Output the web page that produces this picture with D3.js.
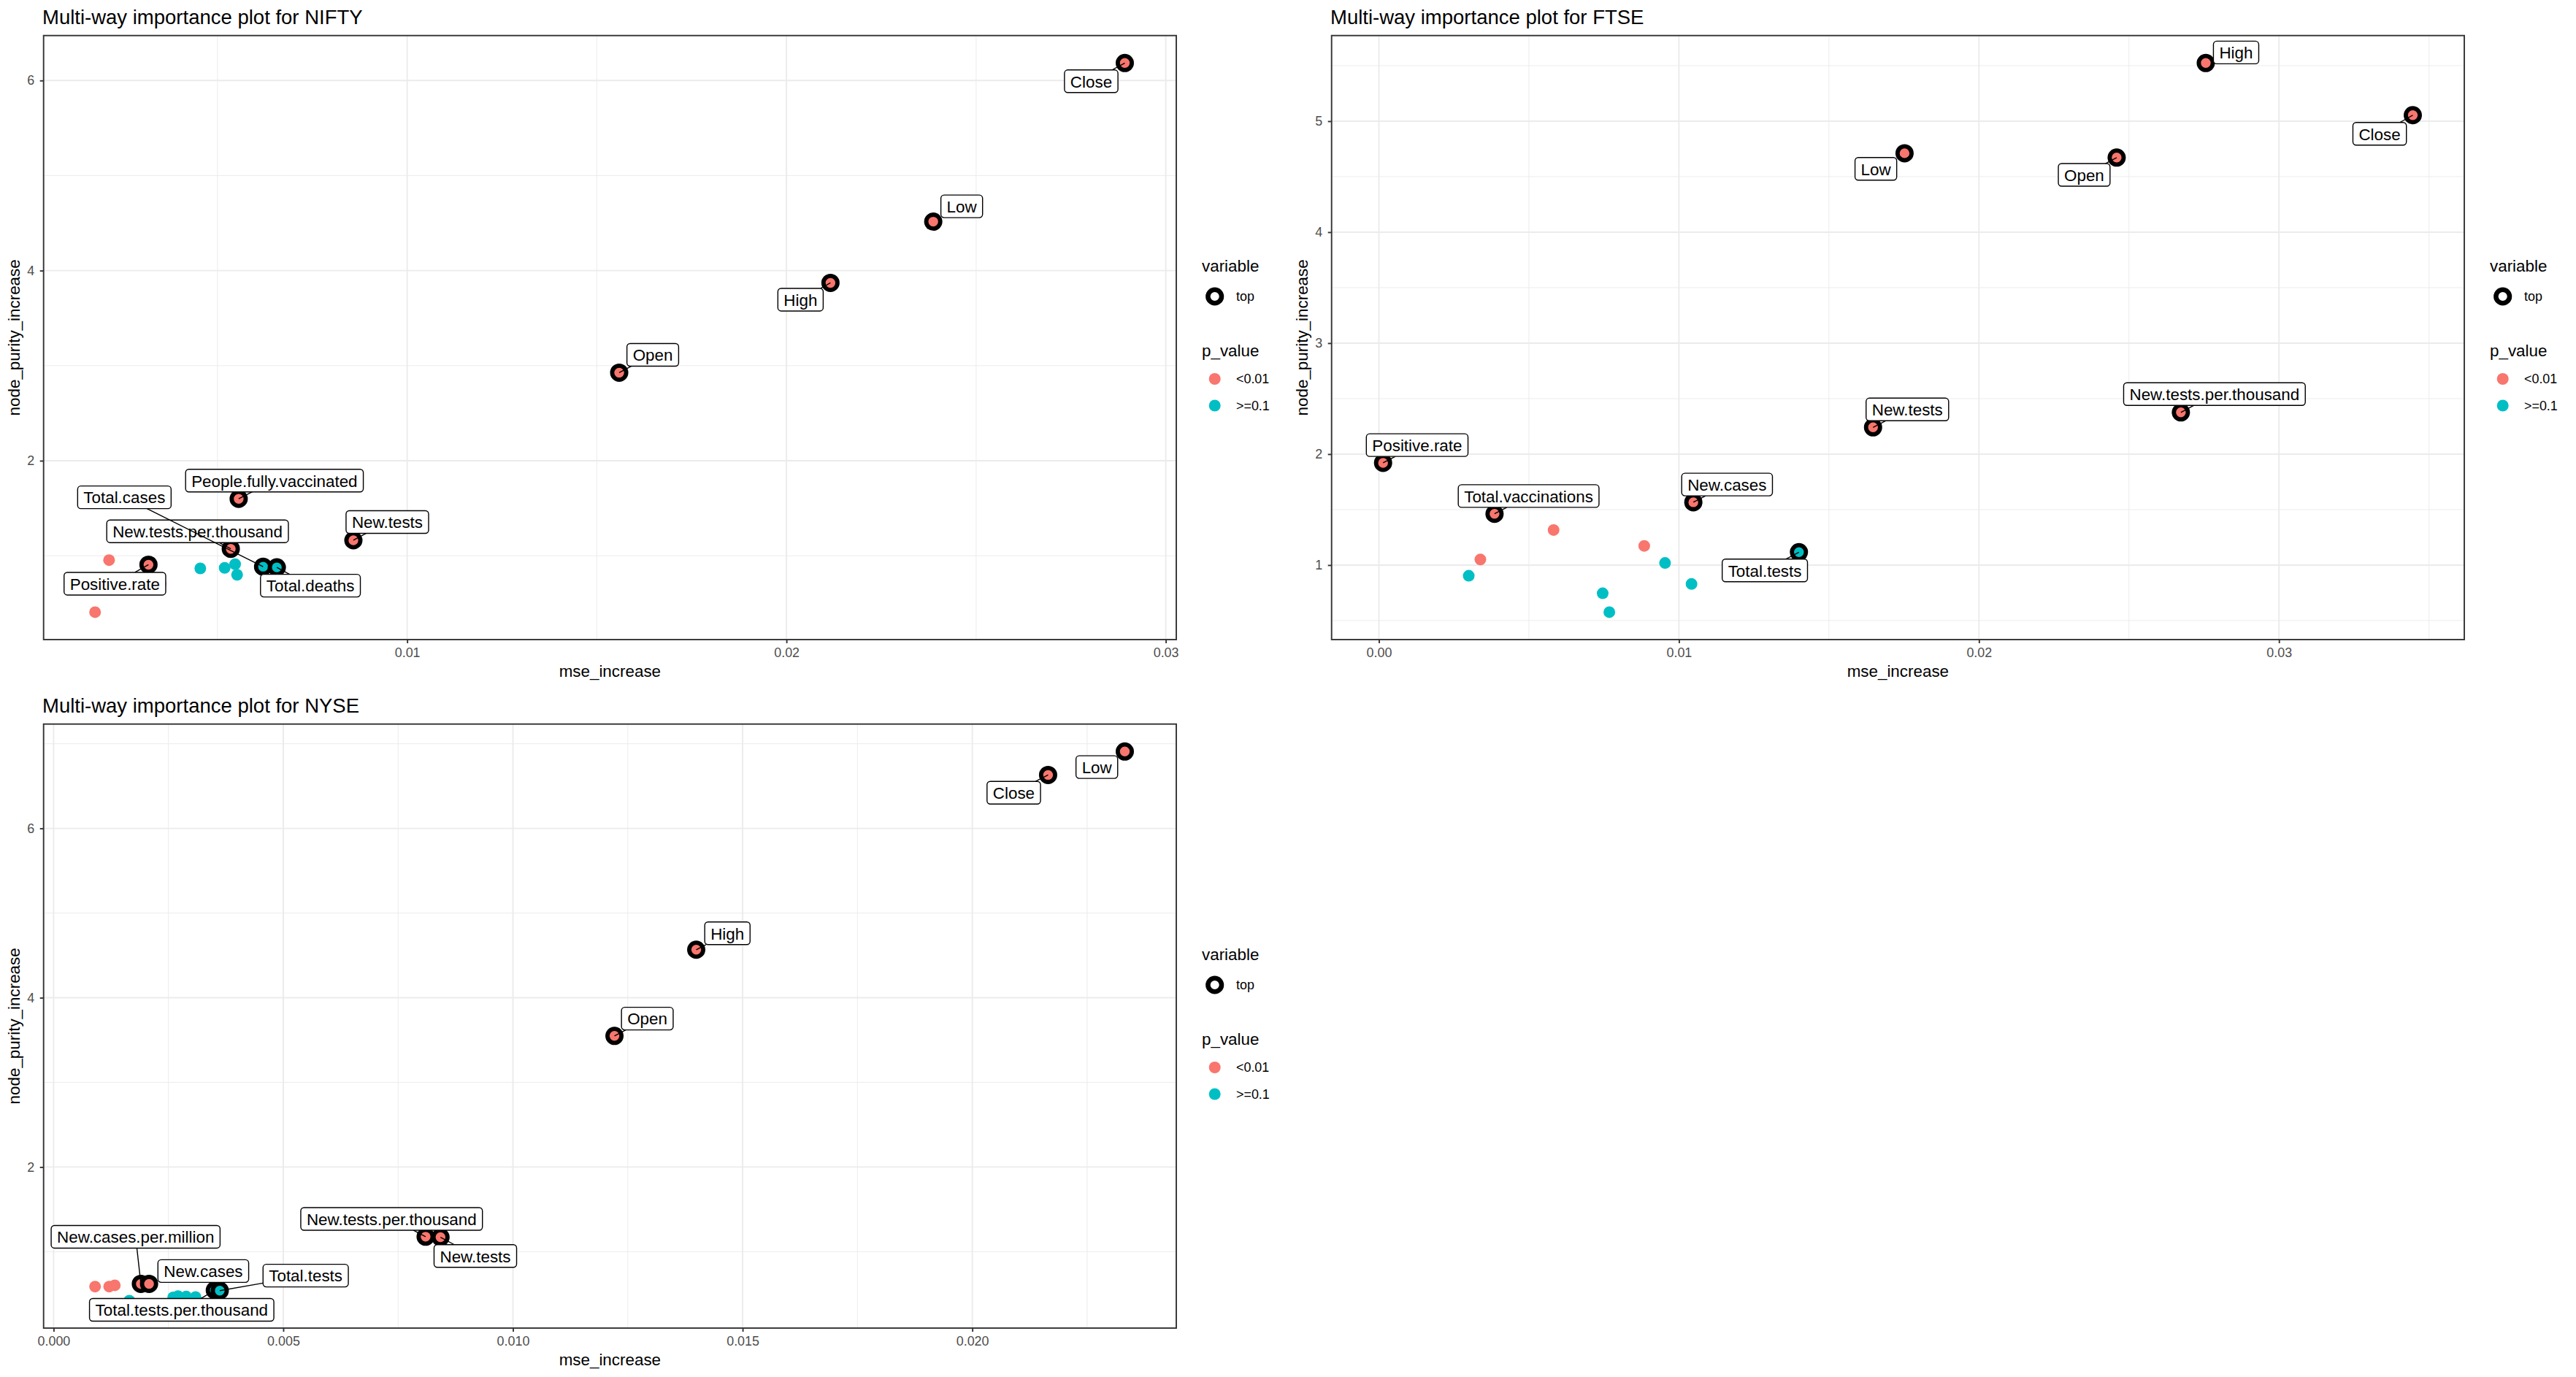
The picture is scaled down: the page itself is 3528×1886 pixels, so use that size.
<!DOCTYPE html>
<html><head><meta charset="utf-8">
<script src="https://cdn.jsdelivr.net/npm/d3@7"></script>
<style>
body{margin:0;background:#fff;}
text{font-family:"Liberation Sans",Arial,Helvetica,sans-serif;}
</style>
</head><body>
<svg id="chart" width="3528" height="1886"></svg>
<script>
// ---------------- DATA ----------------
const pLevels = ["<0.01", ">=0.1"];
const pColors = ["#F8766D", "#00BFC4"];

// NIFTY
const niftyTopNames = ["Close","Low","High","Open","People.fully.vaccinated","New.tests","New.tests.per.thousand","Positive.rate","Total.cases","Total.deaths"];
const niftyTopMse   = [0.02892,0.02387,0.02116,0.01559,0.005558,0.008582,0.00535,0.00318,0.006202,0.006564];
const niftyTopNpi   = [6.184,4.515,3.871,2.926,1.599,1.163,1.073,0.906,0.885,0.878];
const niftyTopP     = ["<0.01","<0.01","<0.01","<0.01","<0.01","<0.01","<0.01","<0.01",">=0.1",">=0.1"];
const niftyOtherMse = [0.002141,0.001772,0.00350,0.004546,0.005189,0.005464,0.005516];
const niftyOtherNpi = [0.954,0.407,0.706,0.867,0.873,0.911,0.800];
const niftyOtherP   = ["<0.01","<0.01","<0.01",">=0.1",">=0.1",">=0.1",">=0.1"];
const niftyXTicks = [0.01,0.02,0.03];
const niftyXTickLabels = ["0.01","0.02","0.03"];
const niftyYTicks = [2,4,6];
const niftyYTickLabels = ["2","4","6"];

// FTSE
const ftseTopNames = ["High","Close","Low","Open","New.tests.per.thousand","New.tests","Positive.rate","Total.vaccinations","New.cases","Total.tests"];
const ftseTopMse   = [0.02756,0.03446,0.01752,0.02459,0.02673,0.01647,0.000139,0.003854,0.01048,0.0140];
const ftseTopNpi   = [5.524,5.054,4.711,4.672,2.376,2.241,1.921,1.462,1.566,1.116];
const ftseTopP     = ["<0.01","<0.01","<0.01","<0.01","<0.01","<0.01","<0.01","<0.01","<0.01",">=0.1"];
const ftseOtherMse = [0.005822,0.008844,0.003382,0.002994,0.009537,0.01042,0.007458,0.00768];
const ftseOtherNpi = [1.316,1.173,1.050,0.904,1.019,0.830,0.746,0.576];
const ftseOtherP   = ["<0.01","<0.01","<0.01",">=0.1",">=0.1",">=0.1",">=0.1",">=0.1"];
const ftseXTicks = [0,0.01,0.02,0.03];
const ftseXTickLabels = ["0.00","0.01","0.02","0.03"];
const ftseYTicks = [1,2,3,4,5];
const ftseYTickLabels = ["1","2","3","4","5"];

// NYSE
const nyseTopNames = ["Low","Close","High","Open","New.tests.per.thousand","New.tests","New.cases.per.million","New.cases","Total.tests.per.thousand","Total.tests"];
const nyseTopMse   = [0.02332,0.02165,0.01399,0.01221,0.008099,0.008423,0.0019,0.002078,0.00351,0.003617];
const nyseTopNpi   = [6.908,6.631,4.567,3.549,1.177,1.171,0.620,0.620,0.545,0.540];
const nyseTopP     = ["<0.01","<0.01","<0.01","<0.01","<0.01","<0.01","<0.01","<0.01",">=0.1",">=0.1"];
const nyseOtherMse = [0.000903,0.00121,0.001332,0.001649,0.002604,0.002709,0.002887,0.00309];
const nyseOtherNpi = [0.588,0.588,0.603,0.422,0.460,0.475,0.470,0.465];
const nyseOtherP   = ["<0.01","<0.01","<0.01",">=0.1",">=0.1",">=0.1",">=0.1",">=0.1"];
const nyseXTicks = [0,0.005,0.01,0.015,0.02];
const nyseXTickLabels = ["0.000","0.005","0.010","0.015","0.020"];
const nyseYTicks = [2,4,6];
const nyseYTickLabels = ["2","4","6"];

// label nudges (pixels, label centre relative to its point) - layout only
const niftyLabelDx = [-46,39,-41,46,49,46.5,-45.5,-46,-190,46];
const niftyLabelDy = [25,-21,23,-24.5,-25,-25,-24,26,-95,25];
const ftseLabelDx = [41.5,-45.4,-39.3,-44.5,46,47,46.7,46.7,46.2,-46.7];
const ftseLabelDy = [-14.4,25.5,21.4,23.7,-25,-24.5,-24.3,-24.3,-24.3,24.9];
const nyseLabelDx = [-38.3,-47,42.7,45,-46.6,47.7,-7.2,74.3,-45.4,117.7];
const nyseLabelDy = [21.3,24.3,-22.5,-23.7,-24.4,25.7,-64.5,-17.6,26.9,-20.6];

// ---------------- DRAW ----------------
const svg = d3.select("#chart");
svg.append("rect").attr("width",3528).attr("height",1886).attr("fill","#fff");
const color = d3.scaleOrdinal().domain(pLevels).range(pColors);

const P = {x0:59.7, x1:1611, y0:48.7, y1:876};

function minorTicks(ticks, domain){
  const step = ticks[1]-ticks[0];
  const out = [];
  for(let v = ticks[0]-step; v <= ticks[ticks.length-1]+step+1e-12; v += step){
    const m = v + step/2;
    if(m > domain[0] && m < domain[1]) out.push(m);
  }
  return out;
}
function padExtent(arr){
  const e = d3.extent(arr); const r = e[1]-e[0];
  return [e[0]-0.05*r, e[1]+0.05*r];
}

function panel(ox, oy, cfg){
  const g = svg.append("g").attr("transform",`translate(${ox},${oy})`);
  const allX = cfg.topMse.concat(cfg.otherMse);
  const allY = cfg.topNpi.concat(cfg.otherNpi);
  const x = d3.scaleLinear().domain(padExtent(allX)).range([P.x0,P.x1]);
  const y = d3.scaleLinear().domain(padExtent(allY)).range([P.y1,P.y0]);

  // grid
  const grid = g.append("g");
  minorTicks(cfg.xTicks, x.domain()).forEach(v=>{
    grid.append("line").attr("x1",x(v)).attr("x2",x(v)).attr("y1",P.y0).attr("y2",P.y1)
      .attr("stroke","#EBEBEB").attr("stroke-width",0.95);
  });
  minorTicks(cfg.yTicks, y.domain()).forEach(v=>{
    grid.append("line").attr("y1",y(v)).attr("y2",y(v)).attr("x1",P.x0).attr("x2",P.x1)
      .attr("stroke","#EBEBEB").attr("stroke-width",0.95);
  });
  cfg.xTicks.forEach(v=>{
    grid.append("line").attr("x1",x(v)).attr("x2",x(v)).attr("y1",P.y0).attr("y2",P.y1)
      .attr("stroke","#EBEBEB").attr("stroke-width",1.9);
  });
  cfg.yTicks.forEach(v=>{
    grid.append("line").attr("y1",y(v)).attr("y2",y(v)).attr("x1",P.x0).attr("x2",P.x1)
      .attr("stroke","#EBEBEB").attr("stroke-width",1.9);
  });

  // non-top points
  const others = cfg.otherMse.map((m,i)=>({m, n:cfg.otherNpi[i], p:cfg.otherP[i]}));
  g.append("g").selectAll("circle").data(others).join("circle")
    .attr("cx",d=>x(d.m)).attr("cy",d=>y(d.n)).attr("r",8).attr("fill",d=>color(d.p));

  // top points
  const tops = cfg.topNames.map((nm,i)=>({nm, m:cfg.topMse[i], n:cfg.topNpi[i], p:cfg.topP[i], dx:cfg.dx[i], dy:cfg.dy[i]}));
  g.append("g").selectAll("circle").data(tops).join("circle")
    .attr("cx",d=>x(d.m)).attr("cy",d=>y(d.n)).attr("r",9.6)
    .attr("fill",d=>color(d.p)).attr("stroke","#000").attr("stroke-width",5.8);

  // labels
  const lg = g.append("g");
  const BH = 31, PADX = 8;
  tops.forEach(d=>{
    const px = x(d.m), py = y(d.n);
    const cx = px + d.dx, cy = py + d.dy;
    const grp = lg.append("g");
    const t = grp.append("text").attr("x",cx).attr("y",cy+8.3).attr("text-anchor","middle")
      .attr("font-size",22.4).attr("fill","#000").text(d.nm);
    const w = t.node().getComputedTextLength() + 2*PADX;
    const vx = px - cx, vy = py - cy;
    let tEdge = Math.min(vx!==0 ? (w/2)/Math.abs(vx) : Infinity, vy!==0 ? (BH/2)/Math.abs(vy) : Infinity);
    if(tEdge < 1){
      const ex = cx + vx*tEdge, ey = cy + vy*tEdge;
      const len = Math.hypot(px-ex, py-ey);
      if(len > 14){
        grp.insert("line","text").attr("x1",ex).attr("y1",ey).attr("x2",px).attr("y2",py)
          .attr("stroke","#000").attr("stroke-width",1.4);
      }
    }
    grp.insert("rect","text").attr("x",cx-w/2).attr("y",cy-BH/2).attr("width",w).attr("height",BH)
      .attr("rx",4.5).attr("ry",4.5).attr("fill","#fff").attr("stroke","#000").attr("stroke-width",1.4);
  });

  // border
  g.append("rect").attr("x",P.x0).attr("y",P.y0).attr("width",P.x1-P.x0).attr("height",P.y1-P.y0)
    .attr("fill","none").attr("stroke","#333333").attr("stroke-width",1.9);

  // axes
  const ax = g.append("g").attr("transform",`translate(0,${P.y1})`)
    .call(d3.axisBottom(x).tickValues(cfg.xTicks).tickFormat((d,i)=>cfg.xTickLabels[i]).tickSize(5).tickSizeOuter(0).tickPadding(6));
  const ay = g.append("g").attr("transform",`translate(${P.x0},0)`)
    .call(d3.axisLeft(y).tickValues(cfg.yTicks).tickFormat((d,i)=>cfg.yTickLabels[i]).tickSize(5).tickSizeOuter(0).tickPadding(7.5));
  [ax,ay].forEach(a=>{
    a.select(".domain").remove();
    a.selectAll(".tick line").attr("stroke","#333333").attr("stroke-width",1.9);
    a.selectAll(".tick text").attr("fill","#4D4D4D").attr("font-size",17.9)
      .attr("font-family",'"Liberation Sans",Arial,sans-serif');
  });

  // titles
  g.append("text").attr("x",58).attr("y",33.3).attr("font-size",27.5).attr("fill","#000").text(cfg.title);
  g.append("text").attr("x",(P.x0+P.x1)/2).attr("y",926.5).attr("text-anchor","middle")
    .attr("font-size",22.4).attr("fill","#000").text("mse_increase");
  g.append("text").attr("transform",`translate(26.5,${(P.y0+P.y1)/2}) rotate(-90)`).attr("text-anchor","middle")
    .attr("font-size",22.4).attr("fill","#000").text("node_purity_increase");

  // legend
  const L = g.append("g");
  L.append("text").attr("x",1646).attr("y",371.7).attr("font-size",22.4).attr("fill","#000").text("variable");
  L.append("circle").attr("cx",1663.7).attr("cy",406).attr("r",9.3).attr("fill","#fff").attr("stroke","#000").attr("stroke-width",6.5);
  L.append("text").attr("x",1693).attr("y",406).attr("dy","0.35em").attr("font-size",17.9).attr("fill","#000").text("top");
  L.append("text").attr("x",1646).attr("y",487.7).attr("font-size",22.4).attr("fill","#000").text("p_value");
  const ly = [519, 555.5];
  pLevels.forEach((lv,i)=>{
    L.append("circle").attr("cx",1663.7).attr("cy",ly[i]).attr("r",8).attr("fill",color(lv));
    L.append("text").attr("x",1693).attr("y",ly[i]).attr("dy","0.35em").attr("font-size",17.9).attr("fill","#000").text(lv);
  });
}

panel(0,0,{title:"Multi-way importance plot for NIFTY",
  topNames:niftyTopNames, topMse:niftyTopMse, topNpi:niftyTopNpi, topP:niftyTopP,
  otherMse:niftyOtherMse, otherNpi:niftyOtherNpi, otherP:niftyOtherP,
  xTicks:niftyXTicks, xTickLabels:niftyXTickLabels, yTicks:niftyYTicks, yTickLabels:niftyYTickLabels,
  dx:niftyLabelDx, dy:niftyLabelDy});
panel(1764,0,{title:"Multi-way importance plot for FTSE",
  topNames:ftseTopNames, topMse:ftseTopMse, topNpi:ftseTopNpi, topP:ftseTopP,
  otherMse:ftseOtherMse, otherNpi:ftseOtherNpi, otherP:ftseOtherP,
  xTicks:ftseXTicks, xTickLabels:ftseXTickLabels, yTicks:ftseYTicks, yTickLabels:ftseYTickLabels,
  dx:ftseLabelDx, dy:ftseLabelDy});
panel(0,943,{title:"Multi-way importance plot for NYSE",
  topNames:nyseTopNames, topMse:nyseTopMse, topNpi:nyseTopNpi, topP:nyseTopP,
  otherMse:nyseOtherMse, otherNpi:nyseOtherNpi, otherP:nyseOtherP,
  xTicks:nyseXTicks, xTickLabels:nyseXTickLabels, yTicks:nyseYTicks, yTickLabels:nyseYTickLabels,
  dx:nyseLabelDx, dy:nyseLabelDy});
</script>
</body></html>
